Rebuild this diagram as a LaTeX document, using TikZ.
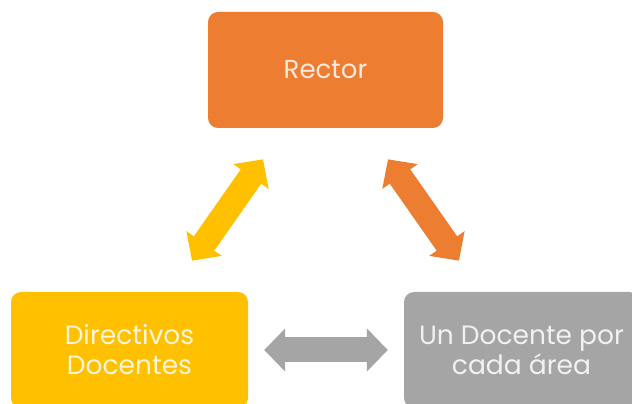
\documentclass[tikz,border=0pt]{standalone}
\usepackage{fontspec}
\setmainfont{Poppins}
\usetikzlibrary{positioning, arrows.meta}
\definecolor{rectorc}{HTML}{ED7D31}
\definecolor{dirc}{HTML}{FFC000}
\definecolor{areac}{HTML}{A5A5A5}

\begin{document}
\begin{tikzpicture}[x=1pt, y=1pt, on grid, node distance=280pt and 196pt,
    area/.style={rectangle, rounded corners=10pt, minimum width=235pt, minimum height=116pt,
        inner sep=0pt, align=center, text=white, text opacity=.85,
        font=\fontsize{26.5}{30}\selectfont},
    link/.style={line width=25pt, {Triangle[width=42pt,length=21pt]}-{Triangle[width=42pt,length=21pt]}}]
    \useasboundingbox (0,0) rectangle (632,404);
    \node[area, fill=rectorc, font=\fontsize{26}{30}\selectfont] (rector) at (325.5,334) {Rector};
    \node[area, fill=dirc, minimum width=237pt] (dir) [below left=of rector] {Directivos\\Docentes};
    \node[area, fill=areac] (area) [below right=of rector] {Un Docente por\\cada área};

    \draw[link, color=dirc, shorten <=38pt, shorten >=38pt] (rector) -- (dir);
    \draw[link, color=rectorc, shorten <=38pt, shorten >=38pt] (rector) -- (area);
    \draw[link, color=areac, shorten <=16pt, shorten >=16pt] (dir) -- (area);
\end{tikzpicture}
\end{document}
